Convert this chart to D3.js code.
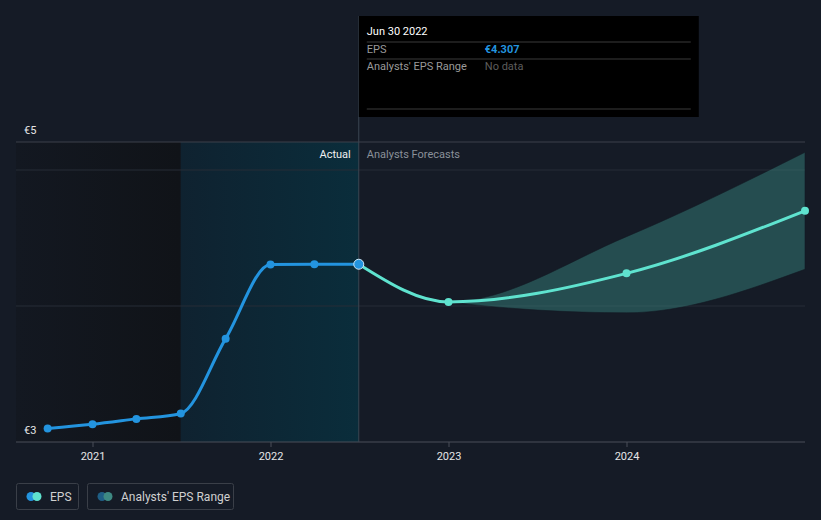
<!DOCTYPE html>
<html>
<head>
<meta charset="utf-8">
<script src="https://cdn.jsdelivr.net/npm/d3@7"></script>
<style>
  body { margin: 0; background: #151b26; }
  svg { display: block; font-family: Roboto, "Open Sans", sans-serif; }
</style>
</head>
<body>
<div id="chart"></div>
<script>
var actualDates = ["2020-09-30", "2020-12-31", "2021-03-31", "2021-06-30", "2021-09-30", "2021-12-31", "2022-03-31", "2022-06-30"];
var actualEps = [3.10, 3.13, 3.17, 3.21, 3.76, 4.305, 4.307, 4.307];

var forecastDates = ["2022-06-30", "2022-12-31", "2023-12-31", "2024-12-31"];
var forecastEps = [4.307, 4.03, 4.24, 4.70];
var rangeLow = [4.307, 4.03, 3.95, 4.27];
var rangeHigh = [4.307, 4.03, 4.51, 5.13];

var yTicks = [3, 4, 5];
var yLabels = ["€3", "€5"];
var xTicks = ["2021-01-01", "2022-01-01", "2023-01-01", "2024-01-01"];

var parse = d3.timeParse("%Y-%m-%d");
var width = 821, height = 520;

var svg = d3.select("#chart").append("svg")
	.attr("width", width)
	.attr("height", height);

var x = d3.scaleTime()
	.domain([parse("2021-01-01"), parse("2024-01-01")])
	.range([93, 627]);
var y = d3.scaleLinear().domain([3, 5]).range([442, 170]);

var plotLeft = 16, plotRight = 805, plotTop = 142, plotBottom = 442;
var splitX = x(parse("2022-06-30"));
var shadeX = x(parse("2021-06-30"));

var defs = svg.append("defs");
var grad = defs.append("linearGradient").attr("id", "hl").attr("x1", 0).attr("x2", 1);
grad.append("stop").attr("offset", "0%").attr("stop-color", "#0f2230");
grad.append("stop").attr("offset", "100%").attr("stop-color", "#0a2d3b");
var grad2 = defs.append("linearGradient").attr("id", "past").attr("x1", 0).attr("x2", 1);
grad2.append("stop").attr("offset", "0%").attr("stop-color", "#131821");
grad2.append("stop").attr("offset", "100%").attr("stop-color", "#101318");

// background shading
svg.append("rect").attr("x", plotLeft).attr("y", plotTop).attr("width", shadeX - plotLeft).attr("height", plotBottom - plotTop)
	.style("fill", "url(#past)");
svg.append("rect").attr("x", shadeX).attr("y", plotTop).attr("width", splitX - shadeX).attr("height", plotBottom - plotTop)
	.style("fill", "url(#hl)");

// gridlines
svg.selectAll("line.grid")
	.data(yTicks)
	.enter().append("line")
	.attr("class", "grid")
	.attr("x1", plotLeft).attr("x2", plotRight)
	.attr("y1", function(d) { return y(d); })
	.attr("y2", function(d) { return y(d); })
	.style("stroke", function(d) { return d == 3 ? "#4a4f58" : "#262c36"; })
	.style("stroke-width", 1);
svg.append("line").attr("x1", plotLeft).attr("x2", plotRight).attr("y1", plotTop).attr("y2", plotTop)
	.style("stroke", "#3c414b");

// y labels
svg.append("text").attr("x", 24).attr("y", 134).text(yLabels[1])
	.style("fill", "#e6e6e6").style("font-size", "11px");
svg.append("text").attr("x", 24).attr("y", y(3) - 8).text(yLabels[0])
	.style("fill", "#e6e6e6").style("font-size", "11px");

// x axis
var xAxis = svg.append("g").attr("transform", "translate(0," + plotBottom + ")");
xAxis.selectAll("g.tick")
	.data(xTicks.map(parse))
	.enter().append("g")
	.attr("transform", function(d) { return "translate(" + x(d) + ",0)"; })
	.each(function(d) {
		var g = d3.select(this);
		g.append("line").attr("y1", 0).attr("y2", 5).style("stroke", "#4a4f58");
		g.append("text").attr("y", 18).attr("text-anchor", "middle")
			.style("fill", "#e6e6e6").style("font-size", "11px")
			.text(d3.timeFormat("%Y")(d));
	});

// analysts range
var band = forecastDates.map(function(d, i) { return {date: parse(d), lo: rangeLow[i], hi: rangeHigh[i]}; });
svg.append("path")
	.datum(band)
	.attr("d", d3.area().curve(d3.curveMonotoneX)
		.x(function(d) { return x(d.date); })
		.y0(function(d) { return y(d.lo); })
		.y1(function(d) { return y(d.hi); }))
	.style("fill", "#3a8a83")
	.style("opacity", 0.45)
	.style("stroke", "#0f1a22")
	.style("stroke-width", 0.6);

// vertical split line
svg.append("line").attr("x1", splitX).attr("x2", splitX).attr("y1", 16).attr("y2", plotBottom)
	.style("stroke", "#3b4653");

svg.append("text").attr("x", splitX - 8).attr("y", 158).attr("text-anchor", "end")
	.text("Actual").style("fill", "#f0f0f0").style("font-size", "11px");
svg.append("text").attr("x", splitX + 8).attr("y", 158)
	.text("Analysts Forecasts").style("fill", "#8a9099").style("font-size", "11px");

// lines
var actual = actualDates.map(function(d, i) { return {date: parse(d), v: actualEps[i]}; });
var forecast = forecastDates.map(function(d, i) { return {date: parse(d), v: forecastEps[i]}; });
var line = d3.line().curve(d3.curveMonotoneX)
	.x(function(d) { return x(d.date); })
	.y(function(d) { return y(d.v); });

svg.append("path").datum(forecast).attr("d", line)
	.style("fill", "none").style("stroke", "#5fe3cf").style("stroke-width", 3);
svg.append("path").datum(actual).attr("d", line)
	.style("fill", "none").style("stroke", "#2394df").style("stroke-width", 3);

svg.selectAll("circle.fc")
	.data(forecast.slice(1))
	.enter().append("circle")
	.attr("class", "fc")
	.attr("cx", function(d) { return x(d.date); })
	.attr("cy", function(d) { return y(d.v); })
	.attr("r", 4)
	.style("fill", "#5fe3cf");
svg.selectAll("circle.ac")
	.data(actual)
	.enter().append("circle")
	.attr("class", "ac")
	.attr("cx", function(d) { return x(d.date); })
	.attr("cy", function(d) { return y(d.v); })
	.attr("r", function(d, i) { return i == actual.length - 1 ? 5 : 4; })
	.style("fill", "#2394df")
	.style("stroke", function(d, i) { return i == actual.length - 1 ? "#cfe8f7" : "none"; })
	.style("stroke-width", 1);

// tooltip
var tip = svg.append("g").attr("transform", "translate(" + splitX + ",16)");
tip.append("rect").attr("width", 340).attr("height", 101).style("fill", "#000");
tip.append("text").attr("x", 8).attr("y", 19).text("Jun 30 2022").style("fill", "#fff").style("font-size", "11px");
[26, 43, 93].forEach(function(yy) {
	tip.append("line").attr("x1", 8).attr("x2", 332).attr("y1", yy).attr("y2", yy).style("stroke", "#3a3a3a");
});
tip.append("text").attr("x", 8).attr("y", 37).text("EPS").style("fill", "#9a9a9a").style("font-size", "11px");
tip.append("text").attr("x", 126).attr("y", 37).text("€4.307")
	.style("fill", "#2394df").style("font-size", "11px").style("font-weight", "bold");
tip.append("text").attr("x", 8).attr("y", 54).text("Analysts' EPS Range").style("fill", "#9a9a9a").style("font-size", "11px");
tip.append("text").attr("x", 126).attr("y", 54).text("No data").style("fill", "#5d5d5d").style("font-size", "11px");

// legend
var legend = [
	{x: 16, w: 62, c1: "#2394df", c2: "#5fe3cf", label: "EPS"},
	{x: 87, w: 146, c1: "#1f5f86", c2: "#3e8a83", label: "Analysts' EPS Range"}
];
var lg = svg.selectAll("g.legend").data(legend).enter().append("g")
	.attr("class", "legend")
	.attr("transform", function(d) { return "translate(" + d.x + ",483)"; });
lg.append("rect").attr("x", 0.5).attr("y", 0.5).attr("width", function(d) { return d.w; }).attr("height", 26).attr("rx", 2)
	.style("fill", "none").style("stroke", "#3a3f48");
lg.append("circle").attr("cx", 15).attr("cy", 13.5).attr("r", 4.5).style("fill", function(d) { return d.c1; });
lg.append("circle").attr("cx", 21).attr("cy", 13.5).attr("r", 4.5).style("fill", function(d) { return d.c2; });
lg.append("text").attr("x", 34).attr("y", 17.5).text(function(d) { return d.label; })
	.style("fill", "#d0d0d0").style("font-size", "12px");
</script>
</body>
</html>
